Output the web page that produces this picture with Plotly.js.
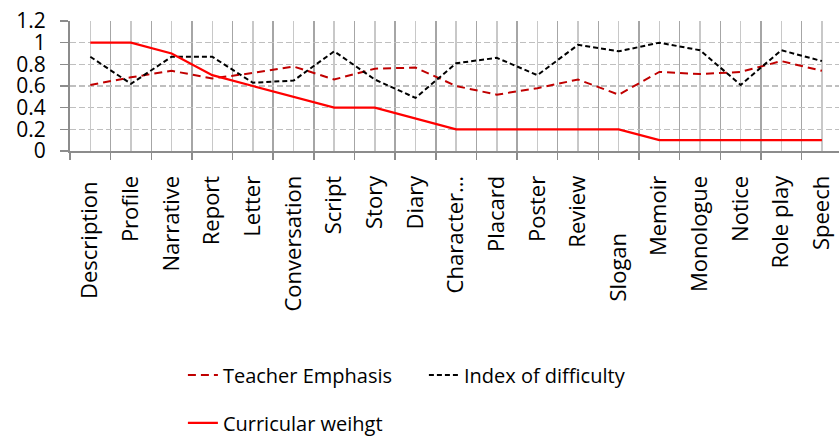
<!DOCTYPE html>
<html>
<head>
<meta charset="utf-8">
<script src="https://cdn.plot.ly/plotly-3.0.1.min.js"></script>
<style>html,body{margin:0;padding:0;background:#fff;}#chart{width:839px;height:436px;}</style>
</head>
<body>
<div id="chart"></div>
<script>
const categories = ["Description","Profile","Narrative","Report","Letter","Conversation","Script","Story","Diary","Character","Placard","Poster","Review","Slogan","Memoir","Monologue","Notice","Role play","Speech"];
const tickLabels = ["Description\u00A0","Profile","Narrative","Report","Letter","Conversation","Script","Story","Diary","Character…","Placard","Poster","Review","Slogan\u00A0\u00A0\u00A0\u00A0\u00A0\u00A0\u00A0\u00A0\u00A0\u00A0","Memoir","Monologue","Notice","Role play","Speech"];
const teacherEmphasis = [0.61,0.68,0.74,0.67,0.72,0.78,0.66,0.76,0.77,0.60,0.52,0.58,0.66,0.52,0.73,0.71,0.73,0.83,0.74];
const indexOfDifficulty = [0.87,0.62,0.87,0.87,0.63,0.65,0.92,0.66,0.49,0.81,0.86,0.70,0.98,0.92,1.00,0.93,0.61,0.93,0.83];
const curricularWeight = [1.0,1.0,0.9,0.7,0.6,0.5,0.4,0.4,0.3,0.2,0.2,0.2,0.2,0.2,0.1,0.1,0.1,0.1,0.1];
const yTicks = [0,0.2,0.4,0.6,0.8,1,1.2];

const font = "Open Sans, sans-serif";
const xRange = [-0.5, 18.42];

const traces = [
  {x: categories, y: teacherEmphasis, name: "Teacher Emphasis", type: "scatter", mode: "lines",
   line: {color: "#C00000", width: 2, dash: "8px,5px"}, legend: "legend", xaxis: "x", yaxis: "y"},
  {x: categories, y: indexOfDifficulty, name: "Index of difficulty", type: "scatter", mode: "lines",
   line: {color: "#000000", width: 2, dash: "5px,3px"}, legend: "legend", xaxis: "x", yaxis: "y"},
  {x: categories, y: curricularWeight, name: "Curricular weihgt", type: "scatter", mode: "lines",
   line: {color: "#FF0000", width: 2.25}, legend: "legend2", xaxis: "x2", yaxis: "y"}
];

const layout = {
  width: 839, height: 436,
  margin: {l: 70, r: 0, t: 21, b: 285, autoexpand: false},
  paper_bgcolor: "#ffffff", plot_bgcolor: "#ffffff",
  font: {family: font, color: "#000000"},
  xaxis: {
    type: "category", categoryorder: "array", categoryarray: categories, range: xRange,
    tickmode: "array", tickvals: categories, ticktext: tickLabels,
    tickson: "boundaries", ticks: "outside", ticklen: 7, tickwidth: 1.5, tickcolor: "#8C8C8C",
    showgrid: true, gridcolor: "#A6A6A6", gridwidth: 1.5,
    showline: true, linecolor: "#8C8C8C", linewidth: 2,
    tickangle: -90, tickfont: {family: font, size: 22, color: "#000000"}, ticklabelstandoff: 14,
    zeroline: false, fixedrange: true
  },
  xaxis2: {
    type: "category", categoryorder: "array", categoryarray: categories, range: xRange,
    overlaying: "x", side: "bottom", showticklabels: false, ticks: "",
    showgrid: true, gridcolor: "#C8C8C8", gridwidth: 1.5, showline: false, zeroline: false
  },
  yaxis: {
    range: [0, 1.2], tickmode: "array", tickvals: yTicks,
    ticks: "outside", ticklen: 8, tickwidth: 1.5, tickcolor: "#8C8C8C",
    showline: true, linecolor: "#8C8C8C", linewidth: 2,
    showgrid: true, gridcolor: "#BFBFBF", gridwidth: 1.5, griddash: "6px,3px",
    zeroline: false, tickfont: {family: font, size: 21, color: "#000000"}, ticklabelstandoff: 10
  },
  legend: {
    orientation: "h", xref: "container", yref: "container", x: 0.218, xanchor: "left",
    y: 0.14, yanchor: "middle", font: {family: font, size: 20, color: "#000000"},
    bgcolor: "rgba(0,0,0,0)", entrywidth: 196, traceorder: "normal"
  },
  legend2: {
    orientation: "h", xref: "container", yref: "container", x: 0.218, xanchor: "left",
    y: 0.03, yanchor: "middle", font: {family: font, size: 20, color: "#000000"},
    bgcolor: "rgba(0,0,0,0)"
  },
  showlegend: true
};

Plotly.newPlot("chart", traces, layout, {staticPlot: true, displayModeBar: false});
</script>
</body>
</html>
